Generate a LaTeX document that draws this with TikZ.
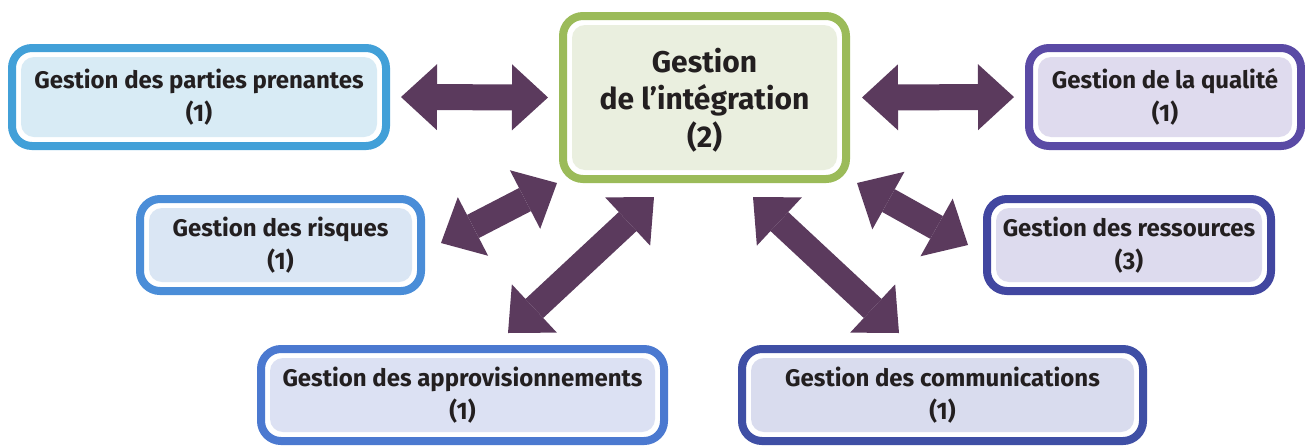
\documentclass[tikz,border=0pt]{standalone}
\usepackage{fontspec}
\setmainfont{Fira Sans}
\usetikzlibrary{arrows.meta}

\definecolor{ink}{HTML}{231F20}
\definecolor{arrowc}{HTML}{5B3A5D}
\definecolor{greenb}{HTML}{9BBB59}\definecolor{greenf}{HTML}{EAEFDF}
\definecolor{skyb}{HTML}{42A0D8}\definecolor{skyf}{HTML}{D8EBF5}
\definecolor{blueb}{HTML}{4A8DD8}\definecolor{bluef}{HTML}{DAE6F4}
\definecolor{royalb}{HTML}{4B79D0}\definecolor{royalf}{HTML}{DCE1F3}
\definecolor{navyb}{HTML}{3F4FA5}\definecolor{navyf}{HTML}{D9DCEE}
\definecolor{indigob}{HTML}{4146A0}\definecolor{indigof}{HTML}{DDDBEE}
\definecolor{violetb}{HTML}{5A4AA5}\definecolor{violetf}{HTML}{DFDBEE}

\tikzset{
  pmbox/.style 2 args={draw=#1, fill=white, line width=8pt, rounded corners=20pt,
    path picture={\fill[#2, rounded corners=13pt]
      ([xshift=9pt,yshift=9pt]path picture bounding box.south west) rectangle
      ([xshift=-9pt,yshift=-9pt]path picture bounding box.north east);},
    align=center, inner sep=0pt, text=ink,
    font=\bfseries\fontsize{24}{33}\selectfont},
  bigarrow/.style={draw=arrowc, line width=26pt, {Triangle[length=36pt,width=66pt,line width=0pt]}-{Triangle[length=36pt,width=66pt,line width=0pt]}}
}

\begin{document}
\begin{tikzpicture}[x=1pt,y=-1pt]
\useasboundingbox (0,0) rectangle (1305,445);

% knowledge areas
\node[pmbox={greenb}{greenf}, minimum width=283pt, minimum height=163pt,
      font=\bfseries\fontsize{30}{37.5}\selectfont]
  (integ) at (704.5,97.5)
  {\raisebox{-4.5pt}[\height][\depth]{\begin{tabular}{@{}c@{}}Gestion\\de l’intégration\\(2)\end{tabular}}};
\node[pmbox={skyb}{skyf}, minimum width=374pt, minimum height=98pt]
  (pp) at (199,97) {Gestion des parties prenantes\\(1)};
\node[pmbox={violetb}{violetf}, minimum width=272pt, minimum height=98pt]
  (qual) at (1165,97) {Gestion de la qualité\\(1)};
\node[pmbox={blueb}{bluef}, minimum width=281pt, minimum height=92pt]
  (risk) at (280.5,245) {Gestion des risques\\(1)};
\node[pmbox={indigob}{indigof}, minimum width=284pt, minimum height=92pt]
  (ress) at (1129,245) {Gestion des ressources\\(3)};
\node[pmbox={royalb}{royalf}, minimum width=403pt, minimum height=92pt]
  (appro) at (462.5,395) {Gestion des approvisionnements\\(1)};
\node[pmbox={navyb}{navyf}, minimum width=401pt, minimum height=92pt]
  (comm) at (942.5,395) {Gestion des communications\\(1)};

% ends of the diagonal arrows
\coordinate (riskA) at (441,243);  \coordinate (riskB) at (557,183);
\coordinate (approA) at (508,333); \coordinate (approB) at (654,197);
\coordinate (commA) at (899,333);  \coordinate (commB) at (753,197);
\coordinate (ressA) at (968,245);  \coordinate (ressB) at (857,183);

% two-way links
\draw[bigarrow, shorten <=11pt, shorten >=11pt] (pp.east) -- (integ.west);
\draw[bigarrow, shorten <=11pt, shorten >=12pt] (qual.west) -- (integ.east);
\draw[bigarrow] (riskA) -- (riskB);
\draw[bigarrow] (approA) -- (approB);
\draw[bigarrow] (commA) -- (commB);
\draw[bigarrow] (ressA) -- (ressB);
\end{tikzpicture}
\end{document}
